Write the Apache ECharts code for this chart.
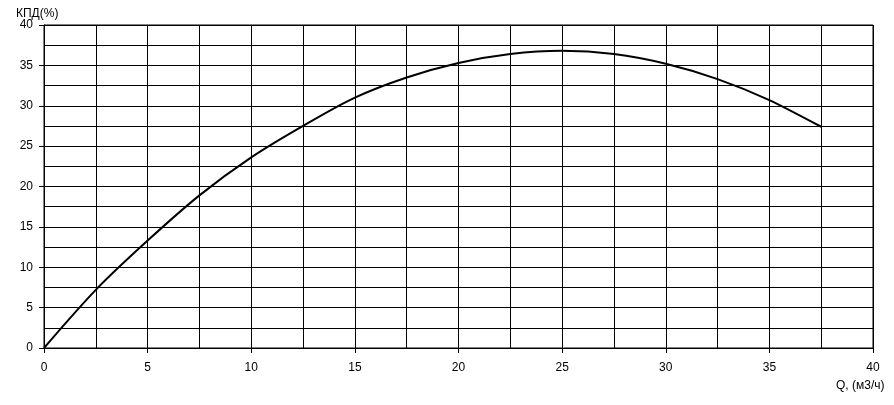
<!DOCTYPE html>
<html>
<head>
<meta charset="utf-8">
<script src="https://cdn.jsdelivr.net/npm/echarts@6/dist/echarts.min.js"></script>
<style>html,body{margin:0;padding:0;background:#fff;}#c{width:894px;height:405px;}</style>
</head>
<body>
<div id="c"></div>
<script>
const qValues = [0, 2.5, 5, 7.5, 10, 12.5, 15, 17.5, 20, 22.5, 25, 27.5, 30, 32.5, 35, 37.5];
const efficiency = [0, 7.2, 13.3, 18.9, 23.6, 27.5, 31.0, 33.5, 35.3, 36.4, 36.8, 36.4, 35.2, 33.3, 30.7, 27.4];
const yAxisTitle = 'КПД(%)';
const xAxisTitle = 'Q, (м3/ч)';

const chart = echarts.init(document.getElementById('c'), null, {renderer: 'canvas'});
const font = 'Liberation Sans, Arial, sans-serif';
const lineStyle = {color: '#000', width: 1};
chart.setOption({
  animation: false,
  backgroundColor: '#fff',
  title: [
    {text: yAxisTitle, left: 11, top: 3, textStyle: {fontFamily: font, fontSize: 12, fontWeight: 'normal', color: '#000'}},
    {text: xAxisTitle, left: 831, top: 375, textStyle: {fontFamily: font, fontSize: 12, fontWeight: 'normal', color: '#000'}}
  ],
  grid: {left: 44, right: 21, top: 25, bottom: 57, show: true, borderColor: '#000', borderWidth: 1},
  xAxis: {
    type: 'value', min: 0, max: 40, interval: 5,
    axisLine: {show: true, lineStyle: lineStyle},
    axisTick: {show: true, length: 5, lineStyle: lineStyle},
    minorTick: {show: false, splitNumber: 2},
    minorSplitLine: {show: true, lineStyle: lineStyle},
    splitLine: {show: true, lineStyle: lineStyle},
    axisLabel: {margin: 14, color: '#000', fontFamily: font, fontSize: 12}
  },
  yAxis: {
    type: 'value', min: 0, max: 40, interval: 5,
    axisLine: {show: true, lineStyle: lineStyle},
    axisTick: {show: true, length: 5, lineStyle: lineStyle},
    minorTick: {show: false, splitNumber: 2},
    minorSplitLine: {show: true, lineStyle: lineStyle},
    splitLine: {show: true, lineStyle: lineStyle},
    axisLabel: {margin: 11, color: '#000', fontFamily: font, fontSize: 12}
  },
  series: [{
    type: 'line',
    data: qValues.map((q, i) => [q, efficiency[i]]),
    smooth: 0.3,
    showSymbol: false,
    symbol: 'none',
    lineStyle: {color: '#000', width: 2}
  }]
});
</script>
</body>
</html>
